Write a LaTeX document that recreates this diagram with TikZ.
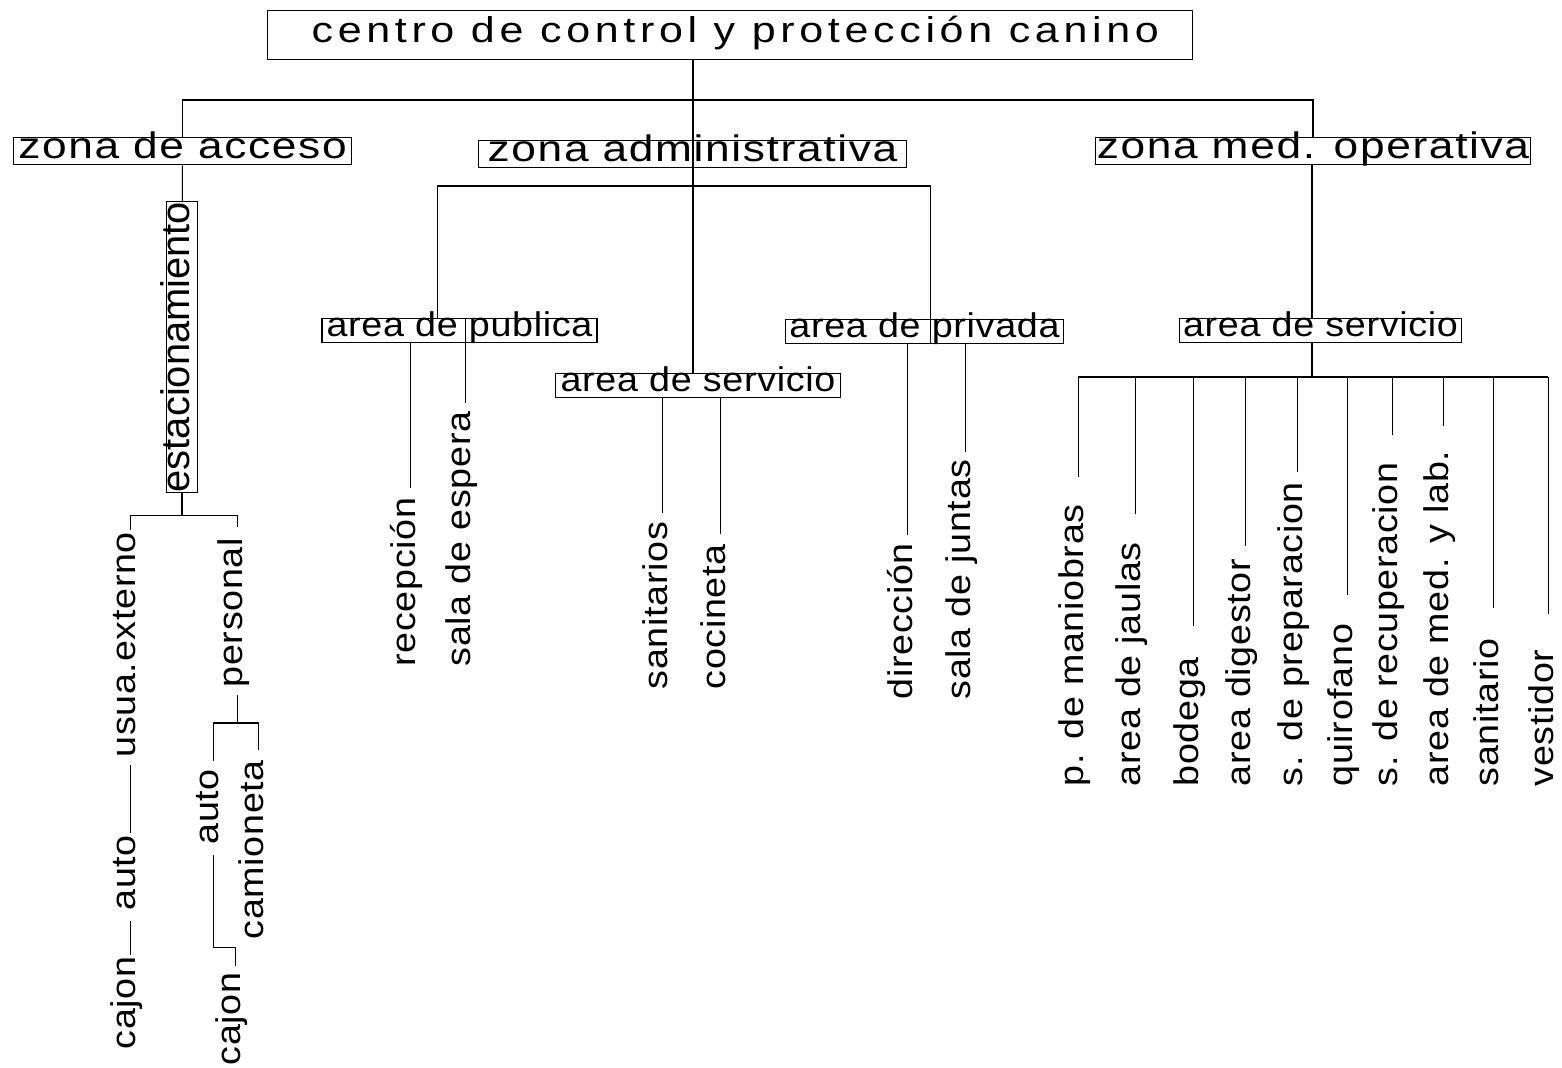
\documentclass[tikz,border=0pt]{standalone}
\usepackage{fontspec}
\setmainfont{Liberation Sans}
\newfontfamily\titulofont[FakeStretch=1.2, LetterSpace=13]{Liberation Sans}
\newfontfamily\zonafont[FakeStretch=1.2, LetterSpace=4.5]{Liberation Sans}
\newfontfamily\areafont[FakeStretch=1.1, LetterSpace=2]{Liberation Sans}
\usetikzlibrary{calc}

\tikzset{
  caja/.style={draw, inner sep=0pt},
  titulo/.style={caja, minimum width=527pt, text height=18.5pt, text depth=9.8pt,
    font=\titulofont\fontsize{20.4}{22}\selectfont},
  zona/.style={caja, text height=12.5pt, text depth=3.4pt,
    font=\zonafont\fontsize{21}{24}\selectfont},
  area/.style={caja, text height=10pt, text depth=3.6pt,
    font=\areafont\fontsize{19.5}{22}\selectfont},
  vert/.style={rotate=90, anchor=base west, inner sep=0pt, text height=10pt,
    text depth=4.4pt, font=\areafont\fontsize{19.5}{22}\selectfont},
}

\begin{document}
\begin{tikzpicture}[x=0.02cm, y=-0.02cm, line width=0.6pt]
  \useasboundingbox (0,0) rectangle (1562,1068);

  % titulo y zonas
  \node[titulo] (titulo) at (730,35) {\hspace*{6pt}centro de control y protección canino};
  \node[zona, minimum width=192pt] (acceso) at (182.5,151) {zona de acceso};
  \node[zona, minimum width=244pt] (admin) at (692.5,154) {zona administrativa};
  \node[zona, minimum width=248pt] (medop) at (1313,151) {zona med. operativa};

  \coordinate (barra) at (693,100);
  \draw (titulo.south -| barra) -- (barra);
  \draw (acceso.north) |- (barra) -| (medop.north);

  % zona de acceso
  \node[caja, rotate=90, minimum width=164pt, text height=13.6pt, text depth=4.5pt,
    font=\fontsize{22.7}{24}\selectfont] (estac) at (182,347) {estacionamiento};
  \draw (acceso) -- (estac);

  \node[vert] (usua)     at (135,758)  {usua.externo};
  \node[vert] (auto1)    at (135,911)  {auto};
  \node[vert] (cajon1)   at (135,1050) {cajon};
  \node[vert] (personal) at (242,688)  {personal};
  \node[vert] (auto2)    at (218,845)  {auto};
  \node[vert] (camion)   at (263,940)  {camioneta};
  \node[vert] (cajon2)   at (240,1066) {cajon};

  \draw (estac.west) -- ++(0,23) coordinate (b1);
  \draw[shorten <=1pt, shorten >=6pt] (usua.east) |- (b1) -| (personal.east);
  \draw[shorten <=4pt, shorten >=1pt] (usua.west) -- (auto1.east);
  \draw[shorten <=5.7pt, shorten >=0.5pt] (auto1.west) -- (cajon1.east);
  \draw[shorten <=4pt] (personal.west) -- ++(0,35) coordinate (b2);
  \draw[shorten <=4.5pt, shorten >=5.7pt] (auto2.east) |- (b2) -| (camion.east);
  \draw[shorten <=5.7pt, shorten >=3.4pt] (auto2.west) |- ($(cajon2.east)+(0,-25)$) -- (cajon2.east);

  % zona administrativa
  \node[area, minimum width=156.5pt] (apub)  at (459.5,330.5) {area de publica};
  \node[area, minimum width=162pt]   (aserv) at (698,385.5)   {area de servicio};
  \node[area, minimum width=158pt]   (apriv) at (924.5,331.5) {area de privada};

  \coordinate (barB) at (693,186);
  \draw (titulo.south -| barra) -- (aserv.north -| barra);
  \draw ([xshift=-12.5pt]apub.north) |- (barB) -| ([xshift=3.4pt]apriv.south);

  \node[vert] (recep)  at (415,667) {recepción};
  \node[vert] (espera) at (470,667) {sala de espera};
  \node[vert] (sanit)  at (667,690) {sanitarios};
  \node[vert] (cocin)  at (725,690) {cocineta};
  \node[vert] (direc)  at (912,700) {dirección};
  \node[vert] (juntas) at (970,700) {sala de juntas};

  \draw[shorten >=5pt]   (recep.east |- apub.south) -- (recep.east);
  \draw[shorten >=4.5pt] (espera.east |- apub.north) -- (espera.east);
  \draw[shorten >=5pt]   (sanit.east |- aserv.south) -- (sanit.east);
  \draw[shorten >=5.7pt] (cocin.east |- aserv.south) -- (cocin.east);
  \draw[shorten >=4.5pt] (direc.east |- apriv.south) -- (direc.east);
  \draw[shorten >=4pt]   (juntas.east |- apriv.south) -- (juntas.east);

  % zona med. operativa
  \node[area, minimum width=160.4pt] (aservR) at (1320.5,330.5) {area de servicio};
  \coordinate (barR) at (1312,377);
  \draw (medop.south -| barR) -- (aservR.north -| barR);
  \draw (aservR.south -| barR) -- (barR);

  \foreach \n/\x/\g/\t in {1/1083/15.3/p. de maniobras, 2/1140/15.9/area de jaulas,
      3/1198/17.6/bodega, 4/1250/6.8/area digestor, 5/1302/5.1/s. de preparacion,
      6/1352/15.9/quirofano, 7/1397/15.3/s. de recuperacion,
      8/1448/13.6/area de med. y lab., 9/1498/17/sanitario, 10/1553/19.8/vestidor} {
    \node[vert] (s\n) at (\x,787) {\t};
    \draw[shorten >=\g pt] (s\n.east |- barR) -- (s\n.east);
  }
  \draw (s1.east |- barR) -- (s10.east |- barR);
\end{tikzpicture}
\end{document}
